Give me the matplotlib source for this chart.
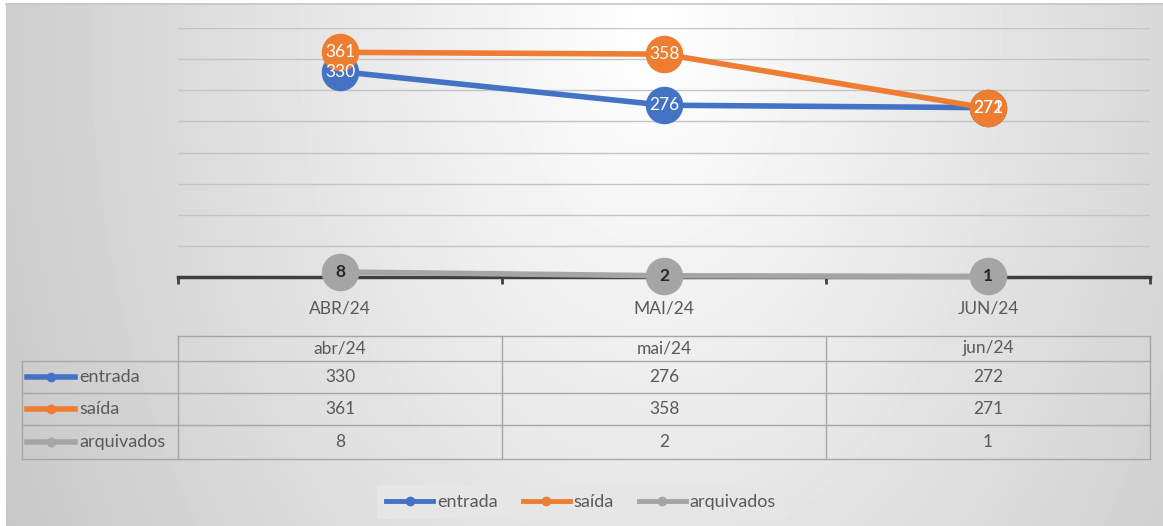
import numpy as np
import matplotlib.pyplot as plt
from matplotlib.lines import Line2D

# data
months = ["ABR/24", "MAI/24", "JUN/24"]
months_table = ["abr/24", "mai/24", "jun/24"]
series_names = ["entrada", "saída", "arquivados"]
entrada = [330, 276, 272]
saida = [361, 358, 271]
arquivados = [8, 2, 1]

blue, orange, gray = "#4472C4", "#ED7D31", "#A5A5A5"
txt = "#595959"

W, H = 1163, 526
plt.rcParams['font.family'] = ['Lato', 'DejaVu Sans']

fig = plt.figure(figsize=(W / 100, H / 100), dpi=100)


def box(l, t, r, b):
    # pixel box -> figure fraction
    return [l / W, 1 - b / H, (r - l) / W, (b - t) / H]


# soft radial background like the excel chart area
bg = fig.add_axes([0, 0, 1, 1], zorder=-5)
yy, xx = np.mgrid[0:H, 0:W]
rr = np.sqrt(((xx - 650) / 600) ** 2 + ((yy - 30) / 900) ** 2)
shade = 1 - 0.18 * np.clip(rr, 0, 1.25)
shade[:, :6] = 1
shade[:3, :] = 1
bg.imshow(shade, cmap='gray', vmin=0, vmax=1, aspect='auto', extent=(0, W, H, 0))
bg.set_xlim(0, W)
bg.set_ylim(H, 0)
bg.axis('off')
bg.plot([6, W], [3.5, 3.5], color='#c6c6c6', lw=1.2)

# main line chart
ax = fig.add_axes(box(178, 28, 1150, 277))
ax.patch.set_alpha(0)
x = np.arange(len(months))
ax.set_xlim(-0.5, 2.5)
ax.set_ylim(0, 400)
ax.set_yticks(np.arange(50, 401, 50))
ax.tick_params(axis='y', length=0, labelleft=False)
ax.grid(axis='y', color='#c4c4c4', lw=1)
ax.set_axisbelow(True)
for s in ['top', 'left', 'right']:
    ax.spines[s].set_visible(False)
ax.spines['bottom'].set_color('#3f3f3f')
ax.spines['bottom'].set_linewidth(2.5)
ax.set_xticks(x, months)
ax.tick_params(axis='x', which='major', length=0, pad=17, labelsize=12.5, labelcolor=txt)
ax.set_xticks([-0.5, 0.5, 1.5, 2.5], minor=True)
ax.tick_params(axis='x', which='minor', length=5, width=2, color='#3f3f3f', direction='out')

for vals, c, z, tc, fw in [(arquivados, gray, 3, '#262626', 'bold'),
                           (entrada, blue, 4, 'white', 'normal'),
                           (saida, orange, 5, 'white', 'normal')]:
    ax.plot(x, vals, color=c, lw=4, marker='o', ms=26, zorder=z, clip_on=False)
    for i, v in enumerate(vals):
        ax.text(i, v, str(v), ha='center', va='center', color=tc, fontsize=12.5,
                fontweight=fw, zorder=10)

# data table under the chart
ov = fig.add_axes([0, 0, 1, 1], zorder=2)
ov.set_xlim(0, W)
ov.set_ylim(H, 0)
ov.axis('off')

tab = fig.add_axes(box(178, 336, 1150, 459), zorder=2)
tab.set_xlim(-0.5, 2.5)
tab.set_ylim(459, 336)
tab.axis('off')

edge = dict(color='#a6a6a6', lw=1, clip_on=False)
row_lines = [361, 393, 425, 459]
row_mid = [377, 409, 442]
tab.plot([-0.5, 2.5], [336, 336], **edge)
for b in [-0.5, 0.5, 1.5, 2.5]:
    tab.plot([b, b], [336, 459], **edge)
for yl in row_lines:
    tab.plot([-0.5, 2.5], [yl, yl], **edge)
    ov.plot([22, 178], [yl, yl], **edge)
ov.plot([22, 22], [361, 459], **edge)

for i, m in enumerate(months_table):
    tab.text(i, 348.5, m, ha='center', va='center', fontsize=12.5, color=txt)
for vals, ym in zip([entrada, saida, arquivados], row_mid):
    for i, v in enumerate(vals):
        tab.text(i, ym, str(v), ha='center', va='center', fontsize=12.5, color=txt)
for name, c, ym in zip(series_names, [blue, orange, gray], row_mid):
    ov.plot([27, 75], [ym, ym], color=c, lw=4)
    ov.plot([51], [ym], marker='o', ms=6, color=c)
    ov.text(79, ym, name, ha='left', va='center', fontsize=13, color=txt)

# legend
handles = [Line2D([], [], color=c, lw=3.5, marker='o', ms=6) for c in [blue, orange, gray]]
fig.legend(handles, series_names, loc='center', bbox_to_anchor=(581 / W, 1 - 502 / H),
           ncol=3, fontsize=13, handlelength=2.6, handletextpad=0.2, columnspacing=1.4,
           frameon=True, facecolor='#e6e6e6', edgecolor='none', fancybox=False,
           framealpha=1, labelcolor=txt, borderpad=0.5)

fig.savefig('out.png', dpi=100)
